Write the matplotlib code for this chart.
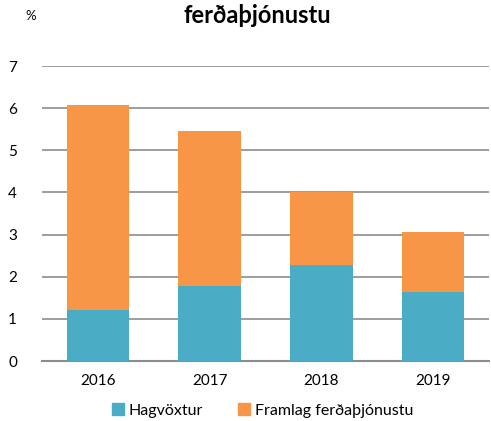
import matplotlib
matplotlib.use("Agg")
import matplotlib.pyplot as plt
from matplotlib.patches import Patch

years = ["2016", "2017", "2018", "2019"]
hagvoxtur = [1.21, 1.78, 2.28, 1.64]
framlag = [4.87, 3.68, 1.73, 1.42]

BLUE = "#4BACC6"
ORANGE = "#F79646"
GRID = "#8C8C8C"

plt.rcParams["font.family"] = ["Lato", "DejaVu Sans"]

fig = plt.figure(figsize=(4.91, 4.21), dpi=100)
ax = fig.add_axes([0.0855, 0.1425, 0.9105, 0.7005])

x = range(len(years))
ax.bar(x, hagvoxtur, width=0.56, color=BLUE, zorder=3)
ax.bar(x, framlag, width=0.56, bottom=hagvoxtur, color=ORANGE, zorder=3)

ax.set_xlim(-0.5, 3.5)
ax.set_ylim(0, 7)
ax.set_yticks(range(8))
ax.set_xticks(list(x))
ax.set_xticklabels(years)
ax.grid(axis="y", color=GRID, linewidth=1.2, zorder=0)
for s in ["top", "right", "left"]:
    ax.spines[s].set_visible(False)
ax.spines["bottom"].set_color(GRID)
ax.spines["bottom"].set_linewidth(1.5)
ax.tick_params(axis="both", length=0, labelsize=11, colors="black")
ax.tick_params(axis="y", pad=18)
ax.tick_params(axis="x", pad=9)

fig.text(0.525, 0.962, "ferðaþjónustu", ha="center", va="center",
         fontsize=17, fontweight="bold")
fig.text(0.062, 0.962, "%", ha="center", va="center", fontsize=9.5)

handles = [Patch(color=BLUE, label="Hagvöxtur"),
           Patch(color=ORANGE, label="Framlag ferðaþjónustu")]
fig.legend(handles=handles, loc="center", bbox_to_anchor=(0.535, 0.025),
           ncol=2, frameon=False, fontsize=11.5, handlelength=0.75,
           handleheight=0.75, handletextpad=0.3, columnspacing=2.2)

fig.savefig("out.png", dpi=100)
